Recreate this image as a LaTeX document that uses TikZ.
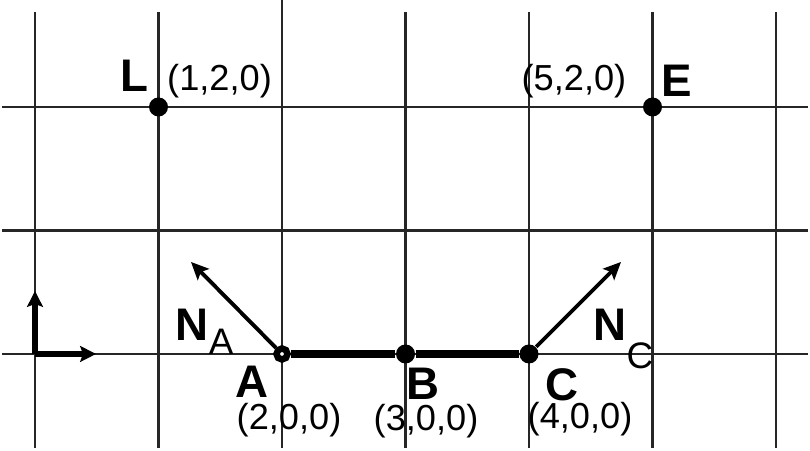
\documentclass[tikz,border=0pt]{standalone}
\usepackage{fontspec}
\setmainfont{Liberation Sans}
\usetikzlibrary{arrows.meta,positioning}
\tikzset{
    gridline/.style={line width=0.6pt, black!85},
    pt/.style={circle, fill=black, inner sep=0pt, minimum size=0.19cm},
    ptopen/.style={circle, draw=black, fill=white, line width=0.065cm, inner sep=0pt, minimum size=0.11cm},
    ptlab/.style={inner sep=0pt, font=\fontsize{13}{15}\selectfont\bfseries},
    coordlab/.style={inner sep=0pt, font=\fontsize{10.3}{12}\selectfont},
    normalvec/.style={line width=1.1pt, -{Stealth[length=5pt, width=4.5pt, inset=1pt]}},
    axisvec/.style={line width=1.5pt, -{Stealth[length=4.5pt, width=4.5pt, inset=0.8pt]}},
    edgeline/.style={line width=2.4pt}
}

\begin{document}
\begin{tikzpicture}[x=1.235cm, y=1.235cm]
    \useasboundingbox (-0.2834,-0.7854) rectangle (6.275,2.866);

    % Grid
    \foreach \gx in {0,1,3,4,5,6} {
        \draw[gridline] (\gx,-0.761) -- (\gx,2.769);
    }
    \draw[gridline] (2,-0.761) -- (2,2.866);
    \foreach \gy in {0,1,2} {
        \draw[gridline] (-0.267,\gy) -- (6.259,\gy);
    }

    % Axes
    \coordinate (O) at (0,0);
    \coordinate (Oy) at (0,0.51);
    \coordinate (Ox) at (0.494,0);
    \draw[axisvec] (O) -- (Oy);
    \draw[axisvec] (O) -- (Ox);

    % Points
    \node[pt] (L) at (1,2) {};
    \node[pt] (E) at (5,2) {};
    \node[ptopen] (A) at (2,0) {};
    \node[pt] (B) at (3,0) {};
    \node[pt] (C) at (4,0) {};

    % Edge A--B--C
    \draw[edgeline] (A) -- (B) -- (C);

    % Normals
    \coordinate (NAtip) at (1.263,0.745);
    \coordinate (NCtip) at (4.745,0.745);
    \draw[normalvec] (A) -- (NAtip);
    \draw[normalvec] (C) -- (NCtip);

    % Labels
    \node[ptlab] (Llab) at (0.806,2.251) {L};
    \node[coordlab] (Lpos) at (1.494,2.211) {(1,2,0)};
    \node[coordlab] (Epos) at (4.364,2.211) {(5,2,0)};
    \node[ptlab] (Elab) at (5.198,2.211) {E};
    \node[ptlab] (Alab) at (1.757,-0.227) {A};
    \node[ptlab] (Blab) at (3.142,-0.243) {B};
    \node[ptlab] (Clab) at (4.267,-0.251) {C};
    \node[coordlab] (Apos) at (2.057,-0.534) {(2,0,0)};
    \node[coordlab] (Bpos) at (3.166,-0.543) {(3,0,0)};
    \node[coordlab] (Cpos) at (4.413,-0.526) {(4,0,0)};
    \node[ptlab, anchor=base west] (NAlab) at (1.134,0.113)
        {N\raisebox{-4pt}{\fontsize{10.5}{12}\selectfont\mdseries A}};
    \node[ptlab, anchor=base west] (NClab) at (4.518,0.113)
        {N\raisebox{-8pt}{\fontsize{10.5}{12}\selectfont\mdseries C}};
\end{tikzpicture}
\end{document}
